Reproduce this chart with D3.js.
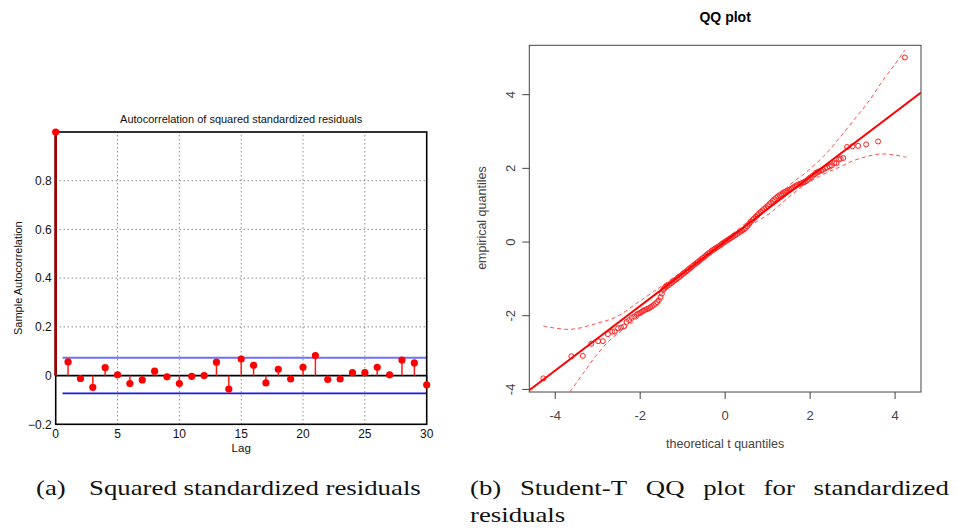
<!DOCTYPE html>
<html><head><meta charset="utf-8">
<script src="https://cdn.jsdelivr.net/npm/d3@7"></script>
<style>body{margin:0;background:#fff}svg{display:block}</style>
</head><body>
<svg id="c" width="957" height="528"></svg>
<script>
// ---------- Data: ACF of squared standardized residuals ----------
const lags = d3.range(0, 31);
const acfValues = [1.0, 0.056, -0.012, -0.048, 0.033, 0.003, -0.033, -0.018, 0.018, -0.005, -0.033,
  -0.003, 0.0, 0.055, -0.055, 0.068, 0.042, -0.030, 0.026, -0.014, 0.034,
  0.082, -0.016, -0.014, 0.012, 0.012, 0.034, 0.003, 0.064, 0.052, -0.038];
const confBound = 0.073;
const acfXTicks = [0, 5, 10, 15, 20, 25, 30];
const acfYTicks = [-0.2, 0, 0.2, 0.4, 0.6, 0.8];

// ---------- Data: Student-t QQ plot ----------
const qqTheo = [-4.28,-3.62,-3.35,-3.15,-2.99,-2.88,-2.76,-2.66,-2.60,-2.52,-2.45,-2.38,-2.32,-2.26,-2.20,-2.14,-2.08,-2.04,
  -2.00,-1.96,-1.92,-1.88,-1.84,-1.80,-1.76,-1.72,-1.68,-1.64,-1.60,-1.56,-1.52,-1.49,-1.46,-1.43,-1.40,
  -1.36,-1.32,-1.28,-1.24,-1.20,-1.16,-1.12,-1.08,-1.04,-1.00,-0.96,-0.92,-0.88,-0.84,-0.80,-0.76,-0.72,
  -0.68,-0.64,-0.60,-0.56,-0.52,-0.48,-0.44,-0.40,-0.36,-0.32,-0.28,-0.24,-0.20,-0.16,-0.12,-0.08,-0.04,
  0.00,0.04,0.08,0.12,0.16,0.20,0.24,0.28,0.32,0.36,0.40,0.44,0.48,0.52,0.56,0.60,0.64,0.68,0.72,0.76,
  0.80,0.84,0.88,0.92,0.96,1.00,1.04,1.08,1.12,1.16,1.20,1.24,1.28,1.32,1.36,1.40,1.44,1.48,1.52,1.56,
  1.60,1.64,1.68,1.72,1.76,1.80,1.84,1.88,1.92,1.96,2.00,
  2.06,2.11,2.14,2.18,2.22,2.26,2.30,2.35,2.40,2.46,2.51,2.57,2.62,2.68,2.72,2.78,2.87,3.00,3.13,3.32,3.60,4.23];
const qqEmp = [-3.70,-3.10,-3.09,-2.76,-2.69,-2.69,-2.50,-2.43,-2.43,-2.34,-2.32,-2.29,-2.17,-2.12,-2.06,-2.02,-1.97,-1.94,
  -1.92,-1.89,-1.86,-1.84,-1.82,-1.80,-1.77,-1.74,-1.71,-1.67,-1.63,-1.58,-1.50,-1.40,-1.30,-1.25,-1.21,
  -1.19,-1.16,-1.12,-1.09,-1.05,-1.02,-0.98,-0.95,-0.91,-0.87,-0.84,-0.80,-0.76,-0.72,-0.69,-0.65,-0.61,
  -0.57,-0.54,-0.50,-0.46,-0.43,-0.39,-0.35,-0.31,-0.28,-0.24,-0.21,-0.18,-0.15,-0.12,-0.09,-0.05,-0.02,
  0.01,0.04,0.07,0.10,0.13,0.16,0.19,0.22,0.25,0.28,0.31,0.34,0.38,0.43,0.49,0.55,0.60,0.64,0.69,0.73,
  0.78,0.82,0.86,0.90,0.94,0.98,1.03,1.07,1.12,1.16,1.20,1.24,1.27,1.30,1.33,1.36,1.38,1.40,1.42,1.45,
  1.48,1.51,1.54,1.56,1.58,1.60,1.62,1.64,1.67,1.71,1.75,
  1.80,1.84,1.88,1.90,1.92,1.94,1.96,2.00,2.02,2.05,2.08,2.14,2.14,2.24,2.26,2.28,2.58,2.60,2.61,2.65,2.73,5.01];
const qqLineX = [-4.61, 4.61];
const qqLineY = [-4.02, 4.06];
const envUpX = [-4.28,-3.65,-3.03,-2.56,-2.08,-1.69,-1.20,-0.60,0.00,0.60,1.20,1.52,1.90,2.31,2.70,3.09,3.40,3.72,4.00,4.23];
const envUpY = [-2.28,-2.37,-2.21,-2.03,-1.66,-1.35,-0.95,-0.45,0.07,0.62,1.19,1.55,1.89,2.32,2.84,3.40,3.85,4.40,4.83,5.21];
const envLoX = [-3.65,-3.34,-3.03,-2.71,-2.32,-1.93,-1.50,-1.00,-0.50,0.00,0.50,1.05,1.50,1.92,2.30,2.70,3.00,3.33,3.64,4.00,4.27];
const envLoY = [-4.06,-3.56,-3.07,-2.66,-2.30,-1.94,-1.42,-0.94,-0.48,-0.03,0.38,0.78,1.22,1.59,1.83,2.04,2.20,2.32,2.39,2.36,2.30];
const qqTicks = [-4, -2, 0, 2, 4];

// ---------- Captions ----------
const captionA = ["(a)", "Squared standardized residuals"];
const captionB1 = ["(b)", "Student-T", "QQ", "plot", "for", "standardized"];
const captionB2 = "residuals";

const svg = d3.select("#c");
const sans = "'Liberation Sans', Arial, Helvetica, sans-serif";

// ================= Left panel =================
const L = svg.append("g");
const ax = d3.scaleLinear([0, 30], [55.7, 426.7]);
const ay = d3.scaleLinear([-0.2, 1], [424.3, 132]);

L.append("g").selectAll("line").data(acfXTicks.filter(t => t > 0 && t < 30)).join("line")
  .attr("x1", d => ax(d)).attr("x2", d => ax(d)).attr("y1", ay(-0.2)).attr("y2", ay(1))
  .attr("stroke", "#444").attr("stroke-width", 0.9).attr("stroke-dasharray", "1,3");
L.append("g").selectAll("line").data(acfYTicks.filter(t => t > 0)).join("line")
  .attr("x1", ax(0)).attr("x2", ax(30)).attr("y1", d => ay(d)).attr("y2", d => ay(d))
  .attr("stroke", "#444").attr("stroke-width", 0.9).attr("stroke-dasharray", "1,3");

L.append("line").attr("x1", ax(0.55)).attr("x2", ax(30)).attr("y1", ay(confBound)).attr("y2", ay(confBound))
  .attr("stroke", "#6f6fff").attr("stroke-width", 2);
L.append("line").attr("x1", ax(0.55)).attr("x2", ax(30)).attr("y1", ay(-confBound)).attr("y2", ay(-confBound))
  .attr("stroke", "#1a1ae0").attr("stroke-width", 1.6);

L.append("line").attr("x1", ax(0)).attr("x2", ax(30)).attr("y1", ay(0)).attr("y2", ay(0))
  .attr("stroke", "#000").attr("stroke-width", 1.6);

L.append("g").selectAll("line").data(lags).join("line")
  .attr("x1", d => ax(d)).attr("x2", d => ax(d))
  .attr("y1", ay(0)).attr("y2", d => ay(acfValues[d]))
  .attr("stroke", d => d === 0 ? "#a00000" : "#ff1a1a").attr("stroke-width", d => d === 0 ? 2.4 : 1.5);

L.append("rect").attr("x", ax(0)).attr("y", ay(1)).attr("width", ax(30) - ax(0)).attr("height", ay(-0.2) - ay(1))
  .attr("fill", "none").attr("stroke", "#000").attr("stroke-width", 1.6);
L.append("line").attr("x1", ax(0)).attr("x2", ax(0)).attr("y1", ay(0)).attr("y2", ay(1))
  .attr("stroke", "#a00000").attr("stroke-width", 2.4);

L.append("g").selectAll("circle").data(lags).join("circle")
  .attr("cx", d => ax(d)).attr("cy", d => ay(acfValues[d])).attr("r", 3.6).attr("fill", "#ff0000");

L.append("g").selectAll("text").data(acfYTicks).join("text")
  .attr("x", ax(0) - 4).attr("y", d => ay(d) + 4.2).attr("text-anchor", "end")
  .attr("font-family", sans).attr("font-size", 12).attr("fill", "#111")
  .text(d => d === 0 ? "0" : (d < 0 ? "\u2212" + Math.abs(d) : d));
L.append("g").selectAll("text").data(acfXTicks).join("text")
  .attr("x", d => ax(d)).attr("y", ay(-0.2) + 13.5).attr("text-anchor", "middle")
  .attr("font-family", sans).attr("font-size", 12).attr("fill", "#111").text(d => d);
L.append("text").attr("x", ax(15)).attr("y", 452).attr("text-anchor", "middle")
  .attr("font-family", sans).attr("font-size", 11.5).attr("fill", "#111").text("Lag");
L.append("text").attr("transform", "translate(22," + ay(0.4) + ") rotate(-90)").attr("text-anchor", "middle")
  .attr("font-family", sans).attr("font-size", 11).attr("fill", "#111").text("Sample Autocorrelation");
L.append("text").attr("x", ax(15)).attr("y", 123).attr("text-anchor", "middle")
  .attr("font-family", sans).attr("font-size", 11).attr("fill", "#111")
  .text("Autocorrelation of squared standardized residuals");

// ================= Right panel =================
const R = svg.append("g");
const qx = d3.scaleLinear([-4.61, 4.61], [529.3, 921]);
const qy = d3.scaleLinear([-4.07, 5.34], [392, 45.3]);

R.append("clipPath").attr("id", "qclip").append("rect")
  .attr("x", qx(-4.61)).attr("y", qy(5.34)).attr("width", qx(4.61) - qx(-4.61)).attr("height", qy(-4.07) - qy(5.34));
const P = R.append("g").attr("clip-path", "url(#qclip)");

const lineGen = d3.line().x(d => qx(d[0])).y(d => qy(d[1])).curve(d3.curveCatmullRom);
P.append("path").datum(envUpX.map((x, i) => [x, envUpY[i]])).attr("d", lineGen)
  .attr("fill", "none").attr("stroke", "#ff3030").attr("stroke-width", 1).attr("stroke-dasharray", "4,3").attr("opacity", 0.85);
P.append("path").datum(envLoX.map((x, i) => [x, envLoY[i]])).attr("d", lineGen)
  .attr("fill", "none").attr("stroke", "#ff3030").attr("stroke-width", 1).attr("stroke-dasharray", "4,3").attr("opacity", 0.85);

P.append("g").selectAll("circle").data(qqTheo.map((x, i) => [x, qqEmp[i]])).join("circle")
  .attr("cx", d => qx(d[0])).attr("cy", d => qy(d[1])).attr("r", 2.5)
  .attr("fill", "none").attr("stroke", "#ff2020").attr("stroke-width", 1);

P.append("line").attr("x1", qx(qqLineX[0])).attr("y1", qy(qqLineY[0])).attr("x2", qx(qqLineX[1])).attr("y2", qy(qqLineY[1]))
  .attr("stroke", "#ff0000").attr("stroke-width", 2);

R.append("rect").attr("x", qx(-4.61)).attr("y", qy(5.34)).attr("width", qx(4.61) - qx(-4.61)).attr("height", qy(-4.07) - qy(5.34))
  .attr("fill", "none").attr("stroke", "#444").attr("stroke-width", 1);

R.append("g").selectAll("line").data(qqTicks).join("line")
  .attr("x1", d => qx(d)).attr("x2", d => qx(d)).attr("y1", qy(-4.07)).attr("y2", qy(-4.07) + 7)
  .attr("stroke", "#444");
R.append("g").selectAll("line").data(qqTicks).join("line")
  .attr("y1", d => qy(d)).attr("y2", d => qy(d)).attr("x1", qx(-4.61)).attr("x2", qx(-4.61) - 7)
  .attr("stroke", "#444");
R.append("g").selectAll("text").data(qqTicks).join("text")
  .attr("x", d => qx(d)).attr("y", 420).attr("text-anchor", "middle")
  .attr("font-family", sans).attr("font-size", 13).attr("fill", "#444").text(d => d);
R.append("g").selectAll("text").data(qqTicks).join("text")
  .attr("transform", d => "translate(515," + qy(d) + ") rotate(-90)").attr("text-anchor", "middle")
  .attr("font-family", sans).attr("font-size", 13).attr("fill", "#444").text(d => d);
R.append("text").attr("x", qx(0)).attr("y", 448).attr("text-anchor", "middle")
  .attr("font-family", sans).attr("font-size", 12.5).attr("fill", "#444").text("theoretical t quantiles");
R.append("text").attr("transform", "translate(486," + qy(0.65) + ") rotate(-90)").attr("text-anchor", "middle")
  .attr("font-family", sans).attr("font-size", 12.5).attr("fill", "#444").text("empirical quantiles");
R.append("text").attr("x", qx(0)).attr("y", 22).attr("text-anchor", "middle")
  .attr("font-family", sans).attr("font-size", 14).attr("font-weight", "bold").attr("fill", "#000").text("QQ plot");

// ================= Captions =================
const serif = "'Liberation Serif', 'DejaVu Serif', serif";
const fs = 21;
const capG = svg.append("g").attr("font-family", serif).attr("fill", "#111").attr("font-size", fs);
const probe = capG.append("text").text(captionA[1]);
const sx = 332 / probe.node().getComputedTextLength();
probe.remove();
const place = (sel, x, y) => sel.attr("transform", "translate(" + x + "," + y + ") scale(" + sx + ",1)");
place(capG.append("text").text(captionA[0]), 36, 495);
place(capG.append("text").text(captionA[1]), 89, 495);

const words = capG.append("g").selectAll("text").data(captionB1).join("text").text(d => d);
const widths = [];
words.each(function () { widths.push(this.getComputedTextLength() * sx); });
const gap = (949 - 470 - d3.sum(widths)) / (captionB1.length - 1);
let xx = 470;
words.each(function (d, i) { place(d3.select(this), xx, 495); xx += widths[i] + gap; });
place(capG.append("text").text(captionB2), 470, 522);
</script>
</body></html>
